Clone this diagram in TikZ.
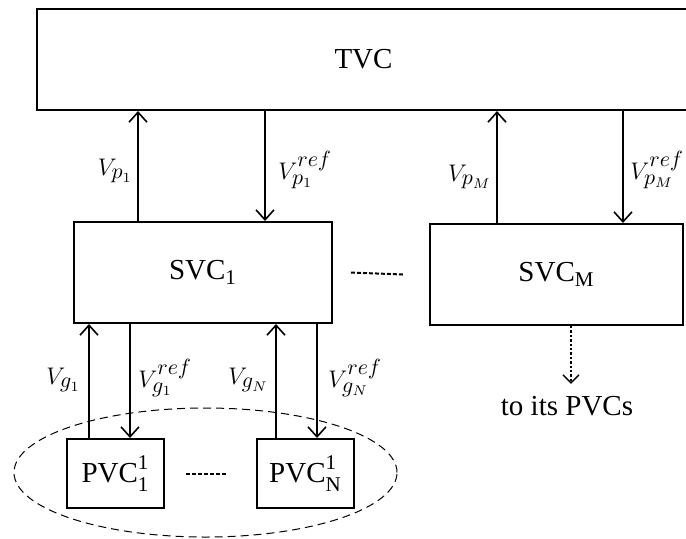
\documentclass[tikz,border=0pt]{standalone}
\usepackage{amsmath}
\usepackage{fontspec}
\setmainfont{Liberation Serif}
\DeclareMathSizes{14.5}{13}{10.5}{7}
\usepackage{tikz}
\usetikzlibrary{arrows.meta,positioning,calc,shapes.geometric}

\begin{document}
\begin{tikzpicture}[
  x=0.5pt, y=-0.5pt,
  ctrlbox/.style={rectangle, draw=black, line width=1pt, inner sep=0pt, align=center, font=\fontsize{14.5}{17}\selectfont},
  sigarrow/.style={-{Straight Barb[length=5pt,width=9pt]}, line width=0.8pt},
  dotarrow/.style={-{Straight Barb[length=4pt,width=8pt]}, line width=0.7pt, dash pattern=on 1.2pt off 1pt},
  dotsline/.style={line width=1pt, dash pattern=on 2pt off 1pt},
  lbl/.style={font=\fontsize{14.5}{17}\selectfont, inner sep=1pt}
]
\useasboundingbox (0,0) rectangle (686,538);

% Controller boxes
\node[ctrlbox, minimum width=327pt, minimum height=50.5pt] (tvc) at (363.5, 59.5) {TVC};
\node[ctrlbox, minimum width=129pt, minimum height=50.5pt] (svc1) at (203, 272.5) {SVC\textsubscript{1}};
\node[ctrlbox, minimum width=126.5pt, minimum height=50.5pt] (svcM) at (556.5, 274.5) {SVC\textsubscript{M}};
\node[ctrlbox, minimum width=48.5pt, minimum height=34.5pt] (pvc1) at (115.5, 473.5) {PVC$^{\text{\raisebox{2.5pt}{1}}}_{\text{1}}$};
\node[ctrlbox, minimum width=48.5pt, minimum height=34.5pt] (pvcN) at (305.5, 473.5) {PVC$^{\text{\raisebox{2.5pt}{1}}}_{\text{N}}$};

% Group of primary controllers
\node[ellipse, draw=black, line width=0.5pt, dash pattern=on 4pt off 2.5pt, minimum width=191.5pt, minimum height=64.5pt, inner sep=0pt] (grp) at (205.5, 472.5) {};

% Signal columns
\coordinate (p1) at (138, 0);
\coordinate (r1) at (265, 0);
\coordinate (pM) at (497, 0);
\coordinate (rM) at (623, 0);
\coordinate (g1) at (89, 0);
\coordinate (s1) at (130, 0);
\coordinate (gN) at (276, 0);
\coordinate (sN) at (317, 0);
\coordinate (m) at (571, 0);

% TVC <-> SVC links
\draw[sigarrow] (svc1.north -| p1) -- (tvc.south -| p1);
\draw[sigarrow] (tvc.south -| r1) -- (svc1.north -| r1);
\draw[sigarrow] (svcM.north -| pM) -- (tvc.south -| pM);
\draw[sigarrow] (tvc.south -| rM) -- (svcM.north -| rM);

\node[lbl, anchor=east] (lp1) at (135, 171) {$V_{p_1}$};
\node[lbl, anchor=west] (lr1) at (276, 170) {$V_{p_1}^{ref}$};
\node[lbl, anchor=east] (lpM) at (494, 177) {$V_{p_M}$};
\node[lbl, anchor=west] (lrM) at (628, 170) {$V_{p_M}^{ref}$};

% SVC1 <-> PVC links
\draw[sigarrow] (pvc1.north -| g1) -- (svc1.south -| g1);
\draw[sigarrow] (svc1.south -| s1) -- (pvc1.north -| s1);
\draw[sigarrow] (pvcN.north -| gN) -- (svc1.south -| gN);
\draw[sigarrow] (svc1.south -| sN) -- (pvcN.north -| sN);

\node[lbl, anchor=east] (lg1) at (83, 380) {$V_{g_1}$};
\node[lbl, anchor=west] (ls1) at (136, 378) {$V_{g_1}^{ref}$};
\node[lbl, anchor=east] (lgN) at (271, 380) {$V_{g_N}$};
\node[lbl, anchor=west] (lsN) at (326, 378) {$V_{g_N}^{ref}$};

% Omitted controllers
\draw[dotsline] ([xshift=9pt]svc1.east) -- ([xshift=-13pt]svcM.west);
\draw[dotsline] ([xshift=10.5pt]pvc1.east) -- ([xshift=-14.5pt]pvcN.west);

% SVC_M to its own PVCs
\node[lbl] (its) at (567, 406) {to its PVCs};
\draw[dotarrow] (svcM.south -| m) -- ([yshift=5pt]its.north -| m);

\end{tikzpicture}
\end{document}
